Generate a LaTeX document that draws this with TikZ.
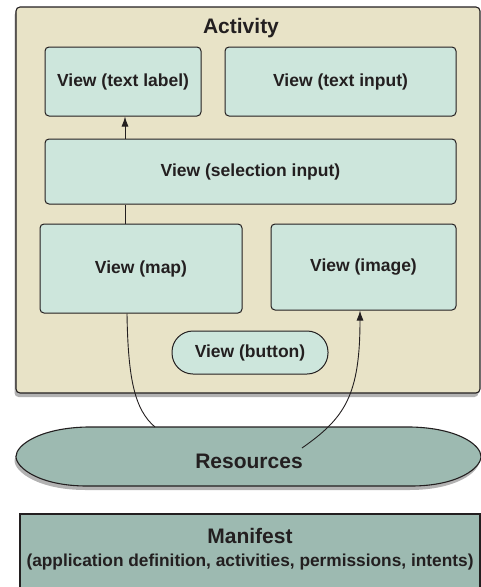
\documentclass[tikz,border=0pt]{standalone}
\usepackage{fontspec}
\setmainfont{Liberation Sans}
\usetikzlibrary{shadows,arrows.meta}

\definecolor{beige}{RGB}{232,227,199}
\definecolor{viewfill}{RGB}{205,230,220}
\definecolor{resfill}{RGB}{157,186,177}
\definecolor{ink}{RGB}{35,31,32}

\begin{document}
\begin{tikzpicture}[x=1pt,y=-1pt,
  shad/.style={drop shadow={shadow xshift=-1.5pt, shadow yshift=-4pt, opacity=0.3, fill=black}},
  activitybox/.style={draw=ink, line width=1.1pt, fill=beige, rounded corners=4pt, shad, inner sep=0pt},
  viewbox/.style={draw=ink, line width=1pt, fill=viewfill, rounded corners=4pt, text=ink,
    font=\fontsize{17.5}{20}\selectfont\bfseries, inner sep=0pt},
  buttonbox/.style={viewbox, rounded corners=21pt},
  bigtext/.style={text=ink, font=\fontsize{21}{24}\selectfont\bfseries, inner sep=0pt},
  subtext/.style={text=ink, font=\fontsize{17.3}{20}\selectfont\bfseries, inner sep=0pt},
  conn/.style={draw=ink, line width=0.9pt},
  arr/.style={conn, -{Latex[length=10pt,width=7pt]}}
]
\useasboundingbox (0,0) rectangle (481,587);

% Activity container
\node[activitybox, minimum width=464pt, minimum height=386pt] (activity) at (248,200) {};
\node[bigtext, anchor=base] (acttitle) at (241,33) {Activity};

% Views
\node[viewbox, minimum width=156pt, minimum height=69pt] (textlabel) at (123,81.5) {View (text label)};
\node[viewbox, minimum width=231pt, minimum height=69pt] (textinput) at (340.5,81.5) {View (text input)};
\node[viewbox, minimum width=411pt, minimum height=65pt] (selection) at (250.5,171.5) {View (selection input)};
\node[viewbox, minimum width=202pt, minimum height=89pt] (map) at (141,268.5) {View (map)};
\node[viewbox, minimum width=185pt, minimum height=86pt] (image) at (363.5,267) {View (image)};
\node[buttonbox, minimum width=156pt, minimum height=43pt] (button) at (250,352.5) {View (button)};

% Resources
\path[draw=ink, line width=1.1pt, fill=resfill, shad]
  (87,427) -- (411,427) .. controls (458,428) and (481,445) .. (481,456.5)
  .. controls (481,468) and (458,486) .. (411,486) -- (87,486)
  .. controls (40,486) and (16,468) .. (16,456.5)
  .. controls (16,445) and (40,428) .. (87,427) -- cycle;
\node[bigtext, anchor=base] (resources) at (249,468) {Resources};
\coordinate (resin) at (155,427);
\coordinate (resout) at (302,448);

% Manifest
\draw[draw=ink, line width=1.1pt, fill=resfill] (20,514) rectangle (480,600);
\node[bigtext, anchor=base] (manifest) at (250,543) {Manifest};
\node[subtext, anchor=base] (manifestsub) at (250,566) {(application definition, activities, permissions, intents)};

% Connectors
\coordinate (c1) at ([xshift=2pt]textlabel.south);
\draw[arr] (selection.north -| c1) -- (c1);
\draw[conn] (map.north -| c1) -- (selection.south -| c1);
\coordinate (mapout) at ([xshift=-14pt]map.south);
\draw[conn] (mapout) .. controls (128,380) and (135,410) .. (resin);
\coordinate (imgin) at ([xshift=-3.5pt]image.south);
\draw[arr] (resout) .. controls (345,418) and (360,395) .. (imgin);
\end{tikzpicture}
\end{document}
